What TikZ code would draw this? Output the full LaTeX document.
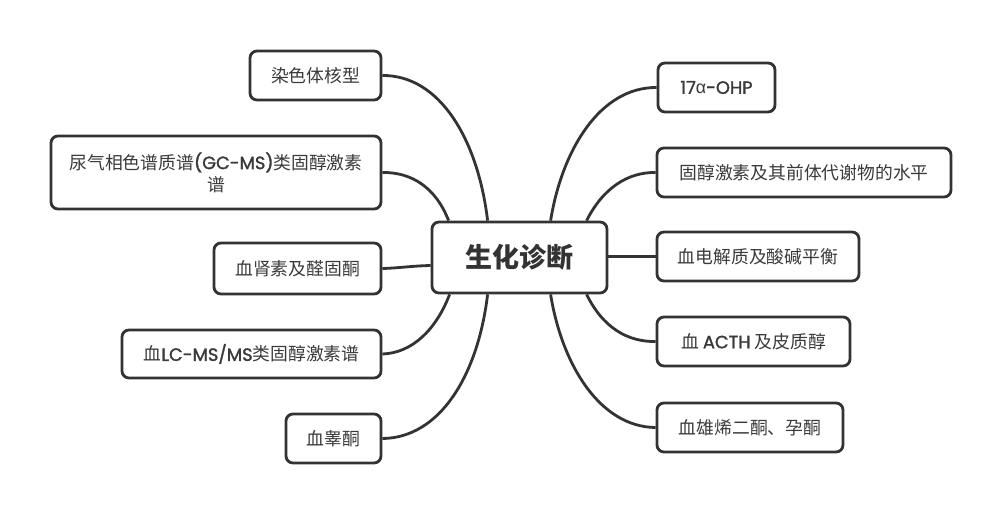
\documentclass[tikz,border=0pt]{standalone}
\usepackage{fontspec}
\setmainfont{Noto Sans CJK SC}
\newfontfamily\lat[FakeBold=1.6]{Poppins}
\newfontfamily\grk{Liberation Sans}
\usetikzlibrary{calc}
\definecolor{ink}{HTML}{333333}
\definecolor{txt}{HTML}{3A3A3A}
\tikzset{
  box/.style={draw=ink, line width=2.8pt, rounded corners=7pt, fill=white, text=txt,
    font=\fontsize{17.8}{22}\selectfont, inner sep=0pt, align=center},
  mainbox/.style={box, font=\fontsize{27}{32}\bfseries\selectfont, text=ink},
  link/.style={draw=ink, line width=2.8pt}
}
\begin{document}
\begin{tikzpicture}[x=1pt,y=-1pt]
\useasboundingbox[fill=white] (0,0) rectangle (1001,514);
% nodes
\node[mainbox, minimum width=175pt, minimum height=71pt] (c) at (519.5,257.5) {生化诊断};
\node[box, minimum width=131pt, minimum height=49pt] (l1) at (315.5,75.5) {染色体核型};
\node[box, minimum width=330pt, minimum height=73pt] (l2) at (216,172.5) {尿气相色谱质谱{\lat (GC-MS)}类固醇激素\\谱};
\node[box, minimum width=167pt, minimum height=51pt] (l3) at (297.5,268.5) {血肾素及醛固酮};
\node[box, minimum width=259pt, minimum height=48pt] (l4) at (251.5,354) {血{\lat LC-MS/MS}类固醇激素谱};
\node[box, minimum width=95pt, minimum height=49pt] (l5) at (333.5,438.5) {血睾酮};
\node[box, minimum width=117pt, minimum height=49pt] (r1) at (716.5,87.5) {{\lat 17}{\grk α}{\lat -OHP}};
\node[box, minimum width=294pt, minimum height=49pt] (r2) at (804,172.5) {固醇激素及其前体代谢物的水平};
\node[box, minimum width=202pt, minimum height=49pt] (r3) at (758,256.5) {血电解质及酸碱平衡};
\node[box, minimum width=193pt, minimum height=49pt] (r4) at (753.5,341.5) {血 {\lat ACTH} 及皮质醇};
\node[box, minimum width=186pt, minimum height=49pt] (r5) at (750,427.5) {血雄烯二酮、孕酮};
% start points on the central node
\coordinate (s1) at ($(c.north west)+(57,0)$);
\coordinate (s2) at ($(c.north west)+(18,0)$);
\coordinate (s3) at ($(c.west)+(0,8)$);
\coordinate (s4) at ($(c.south west)+(19,0)$);
\coordinate (s5) at ($(c.south west)+(57,0)$);
\coordinate (t1) at ($(c.north west)+(120,0)$);
\coordinate (t2) at ($(c.north west)+(156,0)$);
\coordinate (t3) at ($(c.east)+(0,-1)$);
\coordinate (t4) at ($(c.south west)+(156,0)$);
\coordinate (t5) at ($(c.south west)+(120,0)$);
% connectors
\path[link] (s1) .. controls (478,140) and (440,75) .. (l1.east);
\path[link] (s2) .. controls (436,188) and (412,172) .. (l2.east);
\path[link] (s3) .. controls (410,266) and (400,268) .. (l3.east);
\path[link] (s4) .. controls (436,330) and (412,353) .. (l4.east);
\path[link] (s5) .. controls (478,375) and (440,438) .. (l5.east);
\path[link] (t1) .. controls (562,150) and (600,87) .. (r1.west);
\path[link] (t2) .. controls (603,188) and (628,172) .. (r2.west);
\path[link] (t3) -- (r3.west);
\path[link] (t4) .. controls (603,328) and (628,342) .. (r4.west);
\path[link] (t5) .. controls (562,365) and (600,427) .. (r5.west);
\end{tikzpicture}
\end{document}
